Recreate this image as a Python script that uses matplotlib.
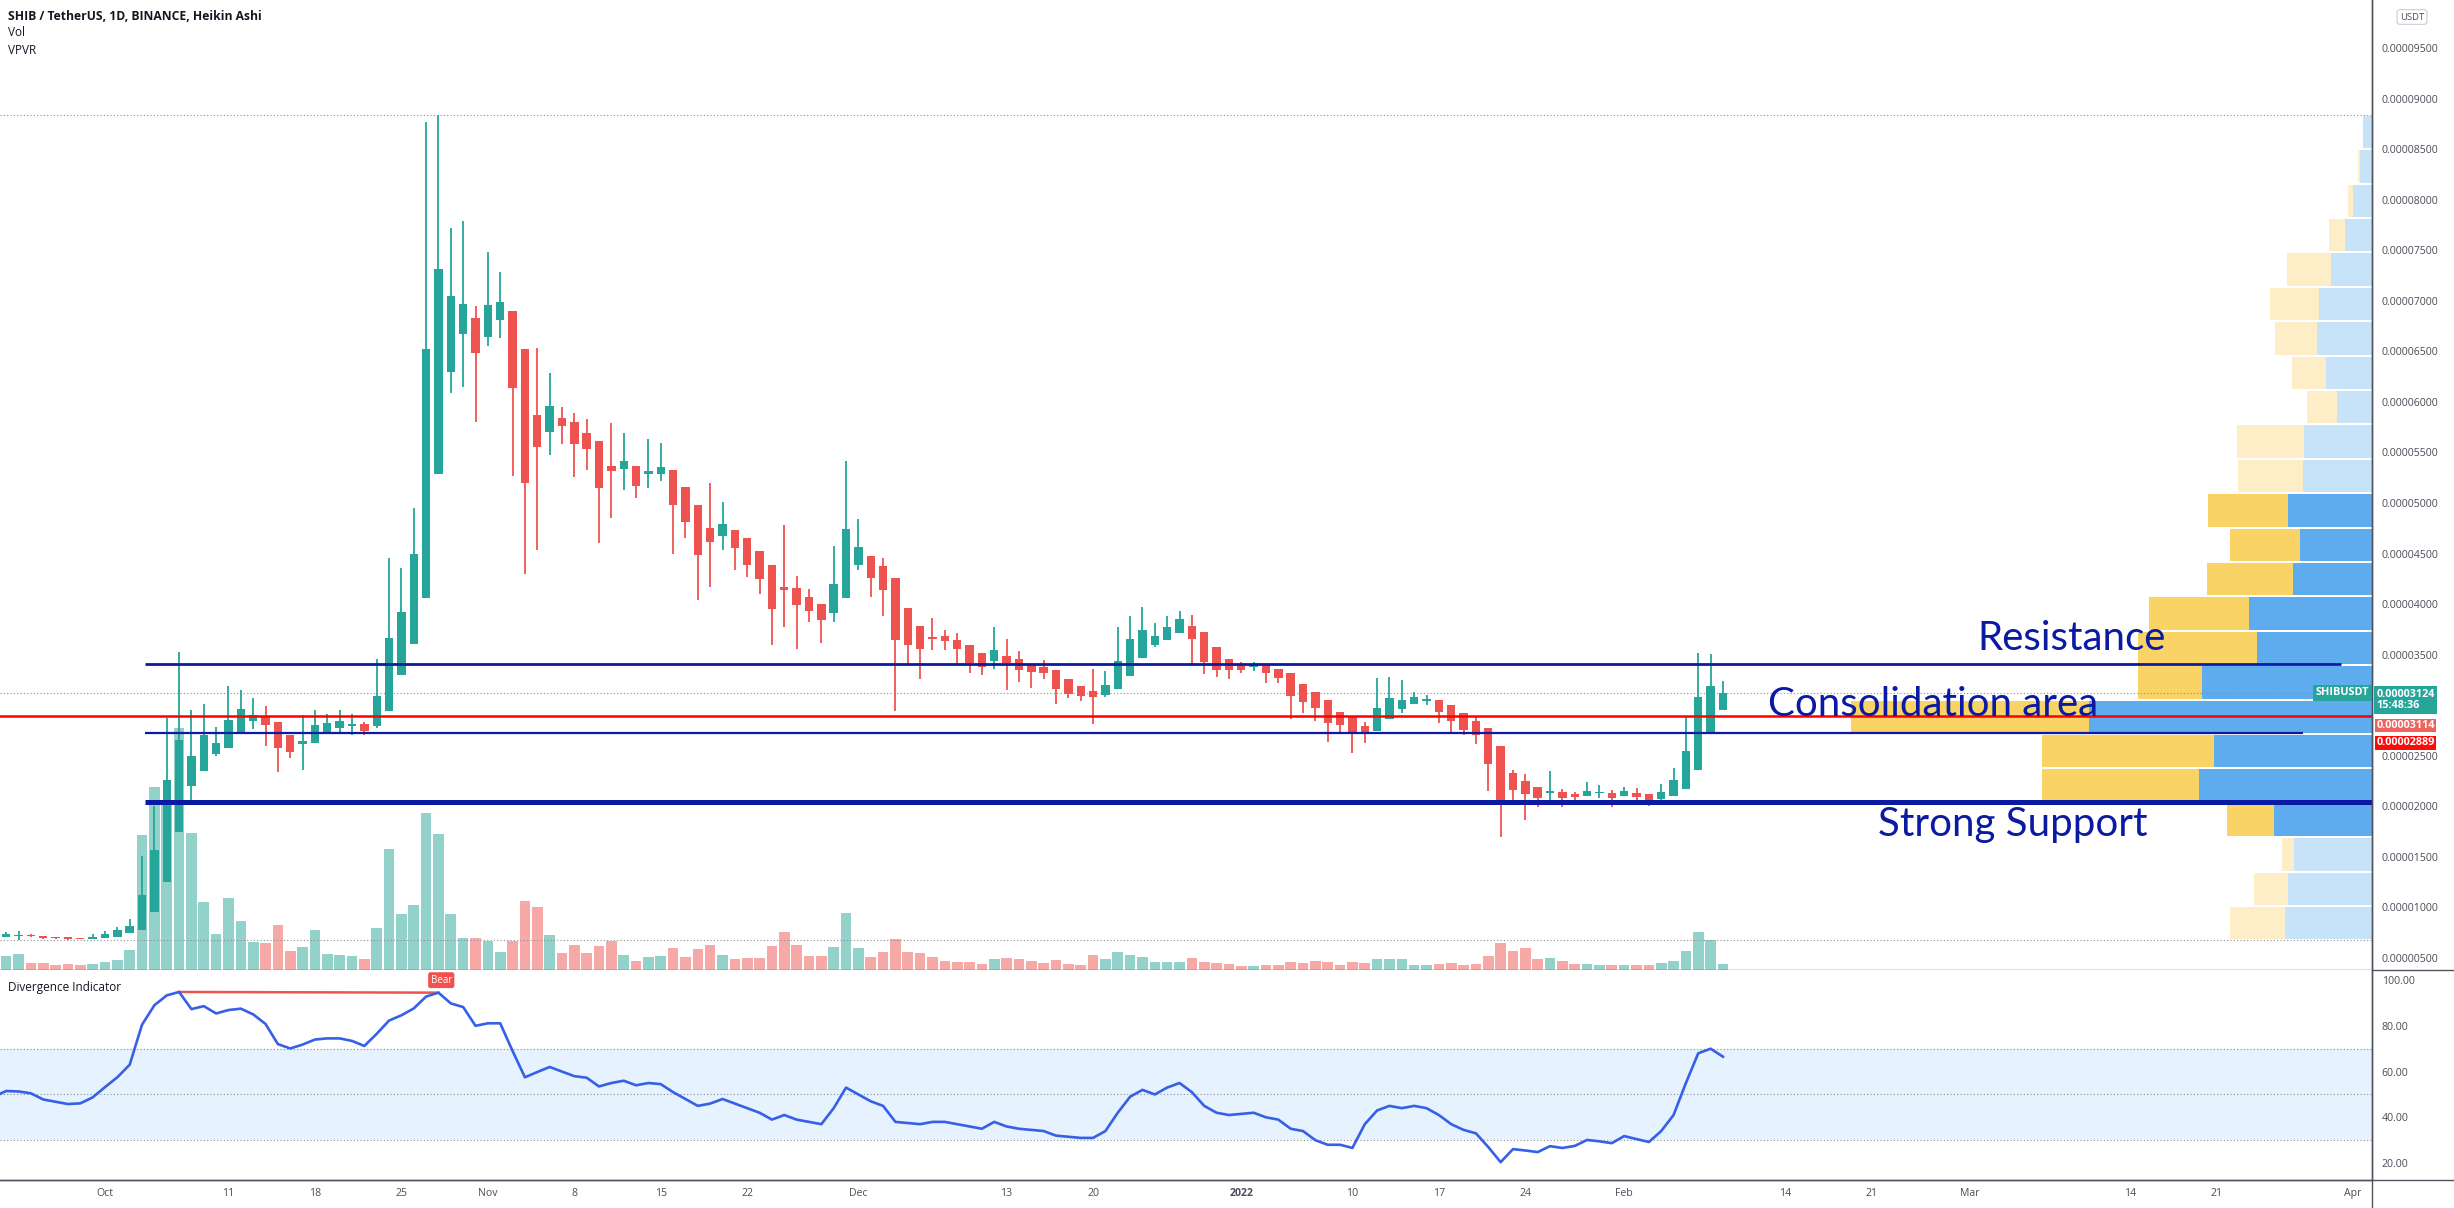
import datetime as dt

import matplotlib
matplotlib.use("Agg")
import matplotlib.dates as mdates
import matplotlib.pyplot as plt
from matplotlib.lines import Line2D
import numpy as np

plt.rcParams['font.family'] = ['Open Sans', 'DejaVu Sans']

# Heikin Ashi candles, prices in millionths of USDT (1.0 == 0.000001)
StartDate = dt.date(2021, 9, 22)

Opens = [
    7.20, 7.11, 7.18, 7.27, 7.18, 7.10, 7.05, 6.95, 6.90,
    6.95, 7.10, 7.45, 7.80, 9.50, 12.5, 17.5, 22.0, 23.5, 25.2, 25.8, 27.2, 28.4, 28.9, 28.3, 27.1,
    26.2, 26.3, 27.2, 27.7, 27.9, 28.1, 27.9, 29.4, 33.0, 36.1, 40.6, 52.9, 63.0, 66.7, 68.3,
    66.4, 68.1, 69.0, 65.2, 58.7, 57.0, 58.4, 58.0, 56.9, 56.1, 53.7, 53.4, 53.7, 52.9, 52.9,
    53.3, 51.6, 49.8, 47.5, 46.7, 47.3, 46.5, 45.3, 43.9, 41.7, 41.6, 40.7, 40.0, 39.1, 40.6,
    43.9, 44.8, 43.8, 42.6, 39.6, 37.8, 36.7, 36.8, 36.5, 36.0, 35.15, 34.4, 34.9, 34.6, 34.1,
    33.8, 33.5, 32.6, 31.9, 31.4, 31.05, 31.6, 32.9, 34.7, 36.0, 36.5, 37.1, 37.8, 37.2, 35.75, 34.6,
    34.1, 33.8, 33.95, 33.55, 33.16, 32.07, 31.28, 30.5, 29.3, 28.87, 27.98, 27.5, 28.6, 29.6, 30.1,
    30.45, 30.5, 30.0, 29.2, 28.44, 27.7, 25.97, 23.33, 22.5, 21.88, 21.36, 21.39, 21.26, 21.06, 21.29, 21.36,
    21.06, 21.36, 21.2, 20.73, 21.06, 21.72, 23.6, 27.16, 29.53]
Highs = [
    7.30, 7.60, 7.70, 7.37, 7.18, 7.10, 7.05, 6.97, 7.35,
    7.70, 8.10, 8.90, 15.1, 20.0, 28.7, 35.3, 29.5, 30.1, 27.8, 31.9, 31.5, 30.7, 29.9, 28.3, 27.1,
    29.0, 29.5, 29.1, 29.5, 29.1, 28.3, 34.6, 44.6, 43.6, 49.5, 87.7, 88.4, 77.2, 77.9, 69.5,
    74.8, 72.9, 69.0, 65.2, 65.3, 62.9, 59.5, 58.9, 58.3, 56.1, 57.9, 56.9, 53.7, 56.3, 55.9,
    53.3, 51.6, 49.8, 52.0, 50.1, 47.3, 46.5, 45.3, 43.9, 47.8, 42.8, 41.5, 40.0, 45.8, 54.2,
    48.4, 44.8, 44.6, 42.6, 39.6, 37.8, 38.65, 37.4, 37.1, 36.0, 35.15, 37.7, 36.6, 35.4, 34.1,
    34.45, 33.5, 32.6, 31.9, 33.6, 33.4, 37.7, 38.8, 39.7, 38.1, 38.8, 39.35, 38.9, 37.2, 35.75, 34.6,
    34.3, 34.3, 33.95, 33.55, 33.16, 32.07, 31.28, 30.5, 29.3, 28.87, 28.3, 32.7, 32.8, 32.5, 31.35,
    31.0, 30.5, 30.0, 29.2, 28.87, 27.7, 25.97, 23.6, 23.2, 21.88, 23.53, 21.7, 21.45, 22.44, 22.1, 21.6,
    21.95, 21.8, 21.2, 22.2, 23.76, 28.94, 35.2, 35.07, 32.4]
Lows = [
    7.00, 7.05, 6.74, 7.05, 6.85, 6.90, 6.80, 6.85, 6.90,
    6.95, 7.10, 7.45, 7.80, 9.50, 12.5, 17.5, 20.6, 23.5, 25.0, 25.8, 27.2, 27.6, 26.0, 23.4, 24.8,
    23.6, 26.3, 27.2, 27.2, 27.1, 27.1, 27.7, 29.4, 33.0, 36.1, 40.6, 52.9, 60.9, 61.5, 58.0,
    65.5, 66.3, 52.7, 43.0, 45.4, 54.8, 55.8, 52.6, 53.3, 46.0, 48.5, 51.3, 50.5, 51.5, 52.2,
    45.0, 46.5, 40.4, 41.7, 45.4, 43.4, 42.7, 41.0, 36.0, 37.7, 35.6, 38.2, 36.2, 38.2, 40.6,
    43.4, 40.75, 38.8, 29.4, 34.1, 32.6, 35.5, 35.5, 34.1, 33.2, 33.0, 33.6, 31.5, 32.3, 31.7,
    32.6, 30.15, 30.7, 30.4, 28.15, 30.8, 31.6, 32.9, 34.7, 35.8, 36.5, 37.1, 34.1, 33.05, 32.8, 32.6,
    33.2, 33.4, 32.2, 32.2, 28.6, 29.2, 28.4, 26.4, 27.4, 25.25, 26.3, 27.5, 28.6, 29.27, 30.1,
    30.0, 28.2, 27.2, 27.06, 26.2, 21.5, 17.0, 20.3, 18.6, 19.97, 20.46, 19.9, 20.23, 21.06, 20.8, 19.97,
    21.06, 20.23, 20.07, 20.46, 21.06, 21.72, 23.6, 27.16, 29.53]
Closes = [
    7.10, 7.37, 7.27, 7.18, 7.00, 6.95, 6.85, 6.88, 7.10,
    7.37, 7.77, 8.20, 11.2, 15.7, 22.6, 26.6, 25.0, 27.1, 26.3, 28.5, 29.6, 29.0, 28.0, 25.8, 25.4,
    26.5, 28.0, 28.2, 28.4, 28.1, 27.5, 30.9, 36.7, 39.2, 45.0, 65.2, 73.2, 70.5, 69.7, 64.8,
    69.6, 69.9, 61.4, 52.0, 55.5, 59.6, 57.6, 55.8, 55.3, 51.5, 53.2, 54.2, 51.7, 53.2, 53.6,
    49.8, 48.1, 44.9, 46.1, 47.9, 45.6, 43.9, 42.5, 39.5, 41.4, 39.9, 39.3, 38.4, 42.0, 47.4,
    45.7, 42.6, 41.4, 36.5, 36.0, 35.6, 36.6, 36.4, 35.6, 34.2, 33.8, 35.5, 34.2, 33.5, 33.3,
    33.2, 31.6, 31.1, 30.95, 30.8, 32.0, 34.35, 36.6, 37.4, 36.8, 37.7, 38.5, 36.6, 34.3, 33.5, 33.5,
    33.5, 34.05, 33.2, 32.73, 30.95, 30.36, 29.7, 28.2, 28.0, 27.13, 27.16, 29.7, 30.7, 30.5, 30.8,
    30.62, 29.37, 28.4, 27.55, 27.06, 24.16, 20.46, 21.6, 21.2, 20.86, 21.47, 20.8, 20.96, 21.55, 21.39, 20.8,
    21.55, 20.96, 20.46, 21.39, 22.6, 25.48, 30.85, 31.9, 31.24]

# daily volume, arbitrary units
Volume = [
    11.7, 14, 16, 6.7, 6.7, 5, 6, 5, 6,
    8.3, 10, 20, 135, 183, 170, 242, 137, 68, 36, 72, 49, 28, 27, 45, 19,
    23, 40, 16, 15, 14, 11, 42, 121, 56, 65, 157, 136, 56, 32, 32,
    29, 18, 29, 69, 63, 35, 17, 25, 17, 24, 29, 15, 9.5, 13, 14,
    22, 13, 21, 25, 15, 11, 12, 12, 24, 38, 25, 14, 14, 22.7, 56.6,
    22, 13.5, 17.7, 30.8, 17.7, 17, 13.5, 8.9, 7.8, 7.8, 6.4, 11.3, 12, 11.3, 8.9,
    7.1, 9.9, 6, 4.6, 15.2, 11.3, 17.7, 15.2, 13.1, 7.8, 7.8, 7.8, 12.4, 7.8, 7.1, 6,
    4.2, 4, 5, 5, 8.3, 7.3, 9.3, 8.3, 5, 8.3, 7.3, 11, 11, 11, 5,
    5, 6, 7.3, 5, 6, 14, 27.3, 19.3, 22.3, 11, 12.3, 9.3, 6, 6, 5, 5,
    5, 5, 5, 7.3, 9.3, 19, 38.3, 30, 6]

# divergence indicator (oscillator 0-100)
Divergence = [
    49, 51.5, 51.3, 50.5, 47.8, 46.8, 45.8, 46.1, 48.7,
    53.2, 57.5, 63.0, 80.5, 89.0, 93.3, 94.8, 87.3, 88.6, 85.4, 86.9, 87.5, 85.0, 80.8, 72.0, 70.1,
    71.8, 74.0, 74.5, 74.5, 73.4, 71.2, 76.5, 82.3, 84.6, 87.6, 92.8, 94.5, 89.8, 88.2, 80.0,
    81.1, 81.1, 69.0, 57.5, 59.8, 62.0, 60.0, 58.0, 57.3, 53.5, 55, 56, 54, 55, 54.5,
    51, 48, 45, 46, 48, 46, 44, 42, 39, 41, 39, 38, 37, 44, 53,
    50, 47, 45, 38, 37.5, 37, 38, 38, 37, 36, 35, 38, 36, 35, 34.5,
    34, 32, 31.5, 31, 31, 34, 42, 49, 52, 50, 53, 55, 51, 45, 42, 41,
    41.5, 42, 40, 39, 35, 34, 30, 28, 28, 26.6, 37, 43, 45, 44, 45,
    44, 41, 37, 34.5, 33, 27, 20.4, 26.1, 25.5, 24.8, 27.4, 26.6, 27.5, 30.1, 29.5, 28.7,
    31.8, 30.5, 29.2, 34, 41, 55, 68, 70, 66.5]
BearFrom = dt.date(2021, 10, 7)
BearTo = dt.date(2021, 10, 28)

# visible range volume profile, 24 rows listed from the top row down
ProfileUp = [9, 12, 19, 27, 41, 53, 55, 46, 35, 68, 69, 84,
             72, 79, 123, 115, 170, 283, 158, 173, 98, 78, 84, 87]
ProfileDown = [0, 2, 5, 16, 44, 49, 42, 34, 30, 67, 65, 80,
               70, 86, 100, 119, 64, 238, 172, 157, 47, 12, 34, 55]
ValueAreaRows = (11, 20)

# drawn levels
ResistanceLevel = 34.1
MidLevel = 28.89
RangeLowLevel = 27.24
SupportLevel = 20.4
RealClose = 31.14
LastTime = "15:48:36"

# price scale ticks (0.00003000 sits under the price labels, so it is not shown)
PriceTicks = [5, 10, 15, 20, 25, 35, 40, 45, 50, 55, 60, 65, 70, 75, 80, 85, 90, 95]

TickDates = [dt.date(2021, 10, 1), dt.date(2021, 10, 11), dt.date(2021, 10, 18), dt.date(2021, 10, 25),
             dt.date(2021, 11, 1), dt.date(2021, 11, 8), dt.date(2021, 11, 15), dt.date(2021, 11, 22),
             dt.date(2021, 12, 1), dt.date(2021, 12, 13), dt.date(2021, 12, 20), dt.date(2022, 1, 1),
             dt.date(2022, 1, 10), dt.date(2022, 1, 17), dt.date(2022, 1, 24), dt.date(2022, 2, 1),
             dt.date(2022, 2, 14), dt.date(2022, 2, 21), dt.date(2022, 3, 1), dt.date(2022, 3, 14),
             dt.date(2022, 3, 21), dt.date(2022, 4, 1)]
TickLabels = ['Oct', '11', '18', '25', 'Nov', '8', '15', '22', 'Dec', '13', '20', '2022',
              '10', '17', '24', 'Feb', '14', '21', 'Mar', '14', '21', 'Apr']

Green = '#26a69a'
Red = '#ef5350'
Navy = '#0a1aa3'
TextColor = '#131722'
AxisText = '#4a4d57'
BorderColor = '#50535e'

W, H = 2454, 1208
O = np.array(Opens)
Hi = np.array(Highs)
Lo = np.array(Lows)
C = np.array(Closes)
Dates = [StartDate + dt.timedelta(days=i) for i in range(len(C))]
X = mdates.date2num(Dates)
Oct1 = mdates.date2num(dt.date(2021, 10, 1))
XLim = (Oct1 - 8.5, Oct1 + 183.55)
YLim = (3.81, 99.76)
Up = C >= O
CandleColors = np.where(Up, Green, Red)
VolColors = np.where(Up, '#93d1cb', '#f7a9a7')

Fig = plt.figure(figsize=(W / 100, H / 100), dpi=100)
MainRect = [0, (H - 970) / H, 2372 / W, 970 / H]

# volume in the background
AxVol = Fig.add_axes(MainRect)
AxVol.bar(X, Volume, width=0.86, color=VolColors, linewidth=0)
AxVol.set_ylim(0, 970)
AxVol.set_xlim(*XLim)
AxVol.axis('off')

# volume profile
AxVp = Fig.add_axes(MainRect, facecolor='none')
Edges = np.linspace(Lo.min(), Hi.max(), len(ProfileUp) + 1)[::-1]
RowH = Edges[0] - Edges[1]
for i, (u, d) in enumerate(zip(ProfileUp, ProfileDown)):
    Centre = (Edges[i] + Edges[i + 1]) / 2
    Dark = ValueAreaRows[0] <= i <= ValueAreaRows[1]
    UpCol = '#5eabed' if Dark else '#c7e3f8'
    DnCol = '#f9d366' if Dark else '#fdeec7'
    AxVp.barh(Centre, u, left=0, height=RowH * 0.94, color=UpCol, linewidth=0)
    AxVp.barh(Centre, d, left=u, height=RowH * 0.94, color=DnCol, linewidth=0)
AxVp.set_xlim(2372, 0)
AxVp.set_ylim(*YLim)
AxVp.axis('off')

# candles and drawings
Ax = Fig.add_axes(MainRect, facecolor='none')
Ax.vlines(X, Lo, Hi, colors=CandleColors, linewidth=1.3, zorder=3)
Ax.bar(X, np.maximum(np.abs(C - O), 0.12), bottom=np.minimum(O, C), width=0.68,
       color=CandleColors, linewidth=0, zorder=4)

for Level in (Hi.max(), C[-1], Lo.min()):
    Ax.axhline(Level, color='#8a8d96', linestyle=(0, (1, 2)), linewidth=0.8, zorder=2)

LineStart = Oct1 + 3.2
Ax.hlines(ResistanceLevel, LineStart, Oct1 + 181, color=Navy, linewidth=2.0, zorder=5)
Ax.hlines(RangeLowLevel, LineStart, Oct1 + 178, color=Navy, linewidth=1.6, zorder=5)
Ax.hlines(SupportLevel, LineStart, XLim[1], color=Navy, linewidth=3.6, zorder=5)
Ax.axhline(MidLevel, color='#ff0000', linewidth=1.8, zorder=5)

NoteFont = dict(family='Lato', fontsize=29, color=Navy, va='center', zorder=6)
Ax.text(mdates.date2num(dt.datetime(2022, 3, 9, 5)), 36.6, 'Resistance', ha='center', **NoteFont)
Ax.text(mdates.date2num(dt.datetime(2022, 2, 12, 16)), 30.1, 'Consolidation area', ha='left', **NoteFont)
Ax.text(mdates.date2num(dt.datetime(2022, 2, 21, 14)), 18.2, 'Strong Support', ha='left', **NoteFont)

Ax.set_xlim(*XLim)
Ax.set_ylim(*YLim)
Ax.set_xticks([])
Ax.yaxis.tick_right()
Ax.set_yticks(PriceTicks)
Ax.set_yticklabels([f'{v * 1e-6:.8f}' for v in PriceTicks])
Ax.tick_params(axis='y', length=0, pad=7, labelsize=7.6, labelcolor=AxisText)
for s in ('top', 'left'):
    Ax.spines[s].set_visible(False)
for s in ('right', 'bottom'):
    Ax.spines[s].set_color(BorderColor)
    Ax.spines[s].set_linewidth(1.0)

# price labels on the scale
LabelFont = dict(fontsize=7.8, color='white', fontweight='bold', zorder=10, annotation_clip=False)
Ax.annotate(f'{C[-1] * 1e-6:.8f}\n{LastTime}', xy=(1, C[-1]), xycoords=('axes fraction', 'data'),
            xytext=(3, -5.3), textcoords='offset points', ha='left', va='center', linespacing=1.05,
            bbox=dict(boxstyle='square,pad=0.22', fc=Green, ec='none'), **LabelFont)
Ax.annotate('SHIBUSDT', xy=(1, C[-1]), xycoords=('axes fraction', 'data'),
            xytext=(-2, 0), textcoords='offset points', ha='right', va='center',
            bbox=dict(boxstyle='square,pad=0.22', fc=Green, ec='none'), **LabelFont)
Ax.annotate(f'{RealClose * 1e-6:.8f}', xy=(1, RealClose), xycoords=('axes fraction', 'data'),
            xytext=(3, -22.8), textcoords='offset points', ha='left', va='center',
            bbox=dict(boxstyle='square,pad=0.12', fc='#f0625c', ec='none'), **LabelFont)
Ax.annotate(f'{MidLevel * 1e-6:.8f}', xy=(1, MidLevel), xycoords=('axes fraction', 'data'),
            xytext=(3, -18.9), textcoords='offset points', ha='left', va='center',
            bbox=dict(boxstyle='square,pad=0.12', fc='#ff0a0a', ec='none'), **LabelFont)

# divergence indicator pane
AxInd = Fig.add_axes([0, (H - 1180) / H, 2372 / W, 210 / H])
AxInd.axhspan(30, 70, color='#e6f2fd', linewidth=0, zorder=0)
for Level in (30, 50, 70):
    AxInd.axhline(Level, color='#8a8d96', linestyle=(0, (1, 2)), linewidth=0.8, zorder=1)
AxInd.plot(X, Divergence, color='#3660e6', linewidth=1.9, zorder=3)
D = dict(zip(Dates, Divergence))
Bx = [mdates.date2num(BearFrom), mdates.date2num(BearTo)]
AxInd.plot(Bx, [D[BearFrom], D[BearTo]], color=Red, linewidth=1.8, zorder=2)
AxInd.annotate('Bear', xy=(Bx[1], D[BearTo]), xytext=(2, 9), textcoords='offset points',
               ha='center', va='center', fontsize=7, color='white',
               bbox=dict(boxstyle='round,pad=0.25', fc=Red, ec='none'), zorder=6)
AxInd.set_xlim(*XLim)
AxInd.set_ylim(12.6, 104.4)
AxInd.yaxis.tick_right()
AxInd.set_yticks([20, 40, 60, 80, 100])
AxInd.set_yticklabels([f'{v:.2f}' for v in (20, 40, 60, 80, 100)])
AxInd.set_xticks(mdates.date2num(TickDates))
AxInd.set_xticklabels(TickLabels)
for Lbl in AxInd.get_xticklabels():
    if Lbl.get_text() == '2022':
        Lbl.set_fontweight('bold')
AxInd.tick_params(axis='both', length=0, labelsize=7.6, labelcolor=AxisText)
AxInd.tick_params(axis='y', pad=7)
AxInd.tick_params(axis='x', pad=6)
for s in ('top', 'left'):
    AxInd.spines[s].set_visible(False)
for s in ('right', 'bottom'):
    AxInd.spines[s].set_color(BorderColor)
    AxInd.spines[s].set_linewidth(1.0)

# scale borders running past the panes
Fig.add_artist(Line2D([2372 / W, 2372 / W], [0, 1], transform=Fig.transFigure, color=BorderColor, linewidth=1.0))
Fig.add_artist(Line2D([0, 1], [28 / H, 28 / H], transform=Fig.transFigure, color=BorderColor, linewidth=1.0))
Fig.add_artist(Line2D([2372 / W, 1], [238 / H, 238 / H], transform=Fig.transFigure, color=BorderColor, linewidth=1.0))

# legends
Fig.text(8 / W, 1 - 16 / H, 'SHIB / TetherUS, 1D, BINANCE, Heikin Ashi', fontsize=8.7,
         fontweight='bold', color=TextColor, va='center')
Fig.text(8 / W, 1 - 33 / H, 'Vol', fontsize=8.5, color=TextColor, va='center')
Fig.text(8 / W, 1 - 51 / H, 'VPVR', fontsize=8.5, color=TextColor, va='center')
Fig.text(8 / W, 1 - 988 / H, 'Divergence Indicator', fontsize=8.5, color=TextColor, va='center')
Fig.text(2412 / W, 1 - 17 / H, 'USDT', fontsize=6.8, color=AxisText, ha='center', va='center',
         bbox=dict(boxstyle='round,pad=0.3', fc='white', ec='#c9ccd4', linewidth=0.8))

Fig.savefig('out.png', dpi=100, facecolor='white')
